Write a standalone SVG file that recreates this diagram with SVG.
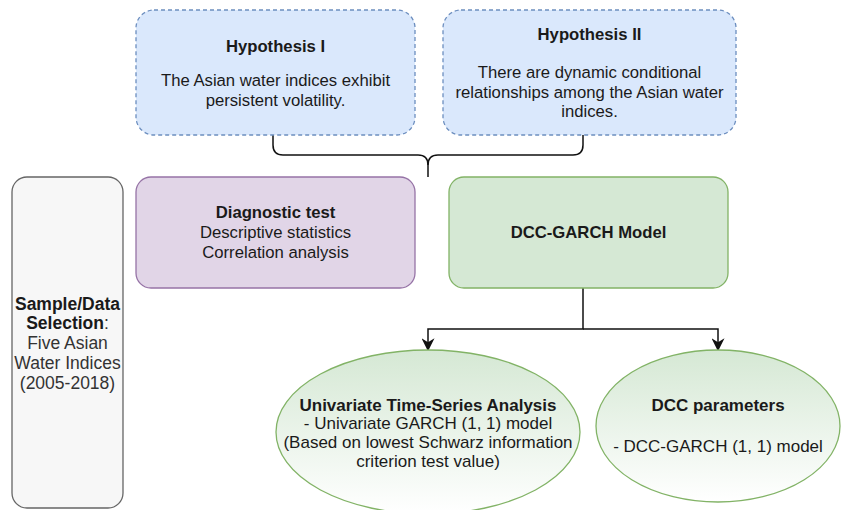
<svg xmlns="http://www.w3.org/2000/svg" width="858" height="510" viewBox="0 0 858 510">
<style>
text{font-family:"Liberation Sans",Arial,sans-serif;font-size:16.7px;fill:#1a1a1a;text-anchor:middle}
.b{font-weight:bold}
.hyp{fill:#dae8fc;stroke:#6c8ebf;stroke-width:1.3;stroke-dasharray:4 3}
.diag{fill:#e1d5e7;stroke:#9673a6;stroke-width:1.3}
.dcc{fill:#d5e8d4;stroke:#82b366;stroke-width:1.3}
.ell{fill:url(#g);stroke:#82b366;stroke-width:1.3}
.samp{fill:#f7f7f7;stroke:#666;stroke-width:1.3}
.c{fill:none;stroke:#111;stroke-width:1.5}
.s text{font-size:17.5px;fill:#333}
.s text.b{fill:#1a1a1a}
.e text{font-size:17px}
</style>
<defs>
<linearGradient id="g" x1="0" y1="0" x2="0" y2="1">
<stop offset="0" stop-color="#d5e8d4"/>
<stop offset="1" stop-color="#ffffff"/>
</linearGradient>
<marker id="a" viewBox="0 0 10 10" refX="9" refY="5" markerWidth="13" markerHeight="13" markerUnits="userSpaceOnUse" orient="auto">
<path d="M0,0 L10,5 L0,10 L3,5 Z" fill="#111"/>
</marker>
</defs>
<g id="connectors">
<path class="c" d="M273,135 V145 Q273,155 283,155 H418 Q428,155 428,165 Q428,155 438,155 H573 Q583,155 583,145 V135"/>
<path class="c" d="M428,163 V177"/>
<path class="c" d="M583,288 V329 H428 V350" marker-end="url(#a)"/>
<path class="c" d="M583,329 H718 V350" marker-end="url(#a)"/>
</g>
<g id="hyp1">
<rect class="hyp" x="136" y="10" width="279" height="125" rx="18"/>
<text class="b" x="275.5" y="52">Hypothesis I</text>
<text x="275.5" y="86">The Asian water indices exhibit</text>
<text x="275.5" y="106">persistent volatility.</text>
</g>
<g id="hyp2">
<rect class="hyp" x="443" y="10" width="293" height="125" rx="18"/>
<text class="b" x="589.5" y="40">Hypothesis II</text>
<text x="589.5" y="78">There are dynamic conditional</text>
<text x="589.5" y="98">relationships among the Asian water</text>
<text x="589.5" y="117">indices.</text>
</g>
<g id="sample" class="s">
<rect class="samp" x="12" y="177" width="111" height="331" rx="15"/>
<text class="b" x="67.5" y="310">Sample/Data</text>
<text x="67.5" y="329"><tspan class="b" font-weight="bold" fill="#1a1a1a">Selection</tspan>:</text>
<text x="67.5" y="349">Five Asian</text>
<text x="67.5" y="369">Water Indices</text>
<text x="67.5" y="389">(2005-2018)</text>
</g>
<g id="diagnostic">
<rect class="diag" x="136" y="177" width="279" height="111" rx="15"/>
<text class="b" x="275.5" y="218">Diagnostic test</text>
<text x="275.5" y="238">Descriptive statistics</text>
<text x="275.5" y="258">Correlation analysis</text>
</g>
<g id="dccgarch">
<rect class="dcc" x="449" y="177" width="279" height="111" rx="15"/>
<text class="b" x="588.5" y="238">DCC-GARCH Model</text>
</g>
<g id="univariate" class="e">
<ellipse class="ell" cx="428" cy="432" rx="152" ry="82"/>
<text class="b" x="428" y="411">Univariate Time-Series Analysis</text>
<text x="428" y="429">- Univariate GARCH (1, 1) model</text>
<text x="428" y="448">(Based on lowest Schwarz information</text>
<text x="428" y="467">criterion test value)</text>
</g>
<g id="dccparams" class="e">
<ellipse class="ell" cx="718" cy="426" rx="122" ry="76"/>
<text class="b" x="718" y="411">DCC parameters</text>
<text x="718" y="452">- DCC-GARCH (1, 1) model</text>
</g>
</svg>
